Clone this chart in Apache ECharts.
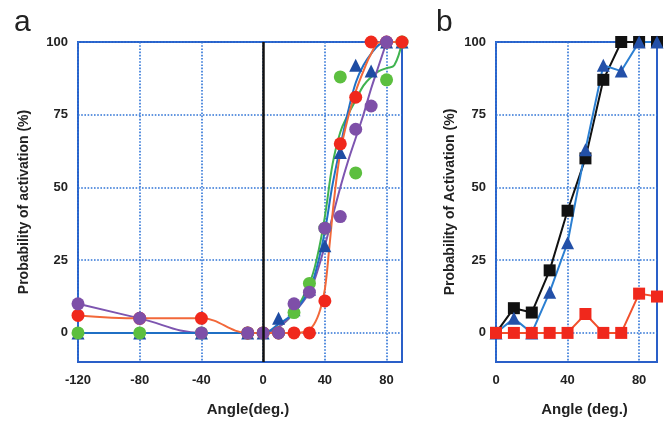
<!DOCTYPE html>
<html>
<head>
<meta charset="utf-8">
<script src="https://cdn.jsdelivr.net/npm/echarts@6/dist/echarts.min.js"></script>
<style>
  html, body { margin: 0; padding: 0; background: #fff; }
  #chart { width: 667px; height: 422px; }
</style>
</head>
<body>
<div id="chart"></div>
<script>
// ---- panel a: measured points (x = angle, deg) ----
const angleA = [-120, -80, -40, -10, 0, 10, 20, 30, 40, 50, 60, 70, 80, 90];
const redA    = [6, 5, 5, 0, 0, 0, 0, 0, 11, 65, 81, 100, 100, 100];
const greenA  = [0, 0, 0, 0, 0, 0, 7, 17, 36, 88, 55, null, 87, 100];
const blueA   = [0, 0, 0, 0, 0, 5, 8, 15, 30, 62, 92, 90, 100, 100];
const purpleA = [10, 5, 0, 0, 0, 0, 10, 14, 36, 40, 70, 78, 100, null];

// ---- panel a: fitted curves ----
const redFit    = [[-120, 6], [-80, 5], [-40, 5], [-10, 0], [0, 0], [20, 0], [28, 0.5], [33, 3], [37, 8], [40, 15], [43, 30], [46, 46], [50, 62], [55, 74], [60, 83], [65, 90], [70, 96], [76, 100], [90, 100]];
const greenFit  = [[-120, 0], [-40, 0], [0, 0], [10, 2], [20, 7], [30, 17], [35, 26], [40, 40], [45, 58], [50, 69], [55, 75], [60, 80], [65, 85], [70, 88], [75, 90], [80, 91], [85, 92], [90, 100]];
const blueFit   = [[-120, 0], [-40, 0], [0, 0], [10, 3], [20, 7], [30, 15], [35, 23], [40, 35], [45, 51], [50, 64], [55, 76], [60, 86], [65, 92], [70, 96], [75, 99], [80, 100], [90, 100]];
const purpleFit = [[-120, 10], [-80, 5], [-40, 0], [-10, 0], [0, 0], [10, 2], [20, 7], [30, 14], [35, 21], [40, 30], [45, 40], [50, 50], [55, 59], [60, 67], [65, 75], [70, 84], [75, 92], [80, 100]];

// ---- panel b ----
const angleB = [0, 10, 20, 30, 40, 50, 60, 70, 80, 90];
const blackB = [0, 8.5, 7, 21.5, 42, 60, 87, 100, 100, 100];
const blueB  = [0, 5, 0, 14, 31, 63, 92, 90, 100, 100];
const redB   = [0, 0, 0, 0, 0, 6.5, 0, 0, 13.5, 12.5];

const ticksXA = [-120, -80, -40, 0, 40, 80];
const ticksXB = [0, 40, 80];
const ticksY = [0, 25, 50, 75, 100];

const gridBlue = '#2f74d6';
const font = 'Liberation Sans, Arial, sans-serif';

function pairs(xs, ys) {
  return xs.map((x, i) => [x, ys[i]]).filter(p => p[1] !== null);
}

function xAxisOf(idx, min, max, ticks, name, gap) {
  return {
    type: 'value', gridIndex: idx, min: min, max: max,
    name: name, nameLocation: 'middle', nameGap: gap,
    nameTextStyle: { fontFamily: font, fontWeight: 'bold', fontSize: 15, color: '#222', padding: [0, 0, 0, 16] },
    axisLine: { show: false },
    axisTick: { show: false, customValues: ticks },
    axisLabel: { customValues: ticks, margin: 12, fontFamily: font, fontWeight: 'bold', fontSize: 13, color: '#222' },
    splitLine: { show: true, lineStyle: { color: gridBlue, type: 'dotted', width: 1.6 } }
  };
}

function yAxisOf(idx, name, gap) {
  return {
    type: 'value', gridIndex: idx, min: -10, max: 100,
    name: name, nameLocation: 'middle', nameGap: gap,
    nameTextStyle: { fontFamily: font, fontWeight: 'bold', fontSize: 14, color: '#222' },
    axisLine: { show: false },
    axisTick: { show: false, customValues: ticksY },
    axisLabel: { customValues: ticksY, margin: 10, fontFamily: font, fontWeight: 'bold', fontSize: 13, color: '#222' },
    splitLine: { show: true, lineStyle: { color: gridBlue, type: 'dotted', width: 1.6 } }
  };
}

function fitLine(data, color) {
  return {
    type: 'line', xAxisIndex: 0, yAxisIndex: 0, data: data,
    smooth: 0.4, showSymbol: false, silent: true,
    lineStyle: { color: color, width: 2 }, z: 2
  };
}

function dots(data, color, symbol, size, xi) {
  return {
    type: 'scatter', xAxisIndex: xi, yAxisIndex: xi, data: data,
    symbol: symbol, symbolSize: size,
    itemStyle: { color: color, opacity: 1 }, z: 3
  };
}

function polyline(data, lineColor, markColor, symbol, size) {
  return {
    type: 'line', xAxisIndex: 1, yAxisIndex: 1, data: data,
    symbol: symbol, symbolSize: size, showAllSymbol: true,
    lineStyle: { color: lineColor, width: 2 },
    itemStyle: { color: markColor, opacity: 1 }, z: 3
  };
}

const chart = echarts.init(document.getElementById('chart'));
chart.setOption({
  animation: false,
  backgroundColor: '#fff',
  title: [
    { text: 'a', left: 9, top: 3, textStyle: { fontFamily: font, fontWeight: 'normal', fontSize: 30, color: '#222' } },
    { text: 'b', left: 431, top: 3, textStyle: { fontFamily: font, fontWeight: 'normal', fontSize: 30, color: '#222' } }
  ],
  grid: [
    { left: 78, right: 265, top: 42, bottom: 57, show: true, borderColor: '#2a5fc8', borderWidth: 2, backgroundColor: 'transparent' },
    { left: 496, right: 10, top: 42, bottom: 57, show: true, borderColor: '#2a5fc8', borderWidth: 2, backgroundColor: 'transparent' }
  ],
  xAxis: [
    xAxisOf(0, -120, 90, ticksXA, 'Angle(deg.)', 40),
    xAxisOf(1, 0, 90, ticksXB, 'Angle (deg.)', 40)
  ],
  yAxis: [
    yAxisOf(0, 'Probability of activation (%)', 47),
    yAxisOf(1, 'Probability of Activation (%)', 39)
  ],
  series: [
    Object.assign(fitLine(greenFit, '#3fb34f'), {
      markLine: {
        silent: true, symbol: 'none', label: { show: false },
        lineStyle: { color: '#111', type: 'solid', width: 2.5 },
        data: [{ xAxis: 0 }]
      }
    }),
    fitLine(purpleFit, '#7d55b0'),
    fitLine(blueFit, '#1f6fc4'),
    fitLine(redFit, '#f2683a'),
    dots(pairs(angleA, blueA), '#1e4ca3', 'triangle', 13, 0),
    dots(pairs(angleA, greenA), '#5cbf3f', 'circle', 13, 0),
    dots(pairs(angleA, redA), '#f0281c', 'circle', 13, 0),
    dots(pairs(angleA, purpleA), '#7e4fa8', 'circle', 13, 0),
    polyline(pairs(angleB, blackB), '#111', '#111', 'rect', 12),
    polyline(pairs(angleB, blueB), '#2b7fd2', '#2350a8', 'triangle', 13),
    polyline(pairs(angleB, redB), '#f2502c', '#f0281c', 'rect', 12)
  ]
});
</script>
</body>
</html>
